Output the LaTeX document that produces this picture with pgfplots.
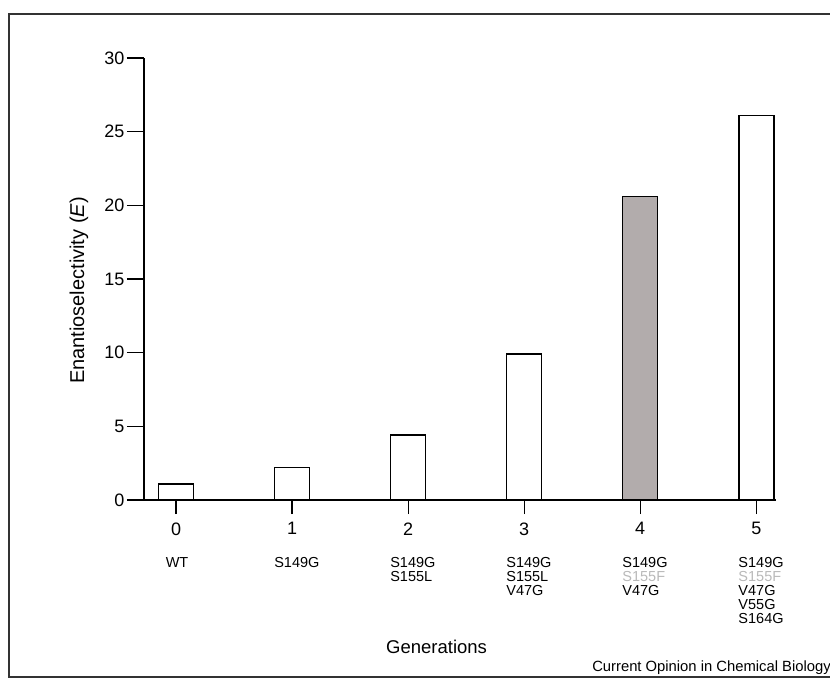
\documentclass[border=0pt]{standalone}
\usepackage{fontspec}
\setmainfont{Liberation Sans}
\usepackage{pgfplots}
\pgfplotsset{compat=1.18}
\definecolor{barfill}{RGB}{178,172,172}
\definecolor{lightlab}{RGB}{185,185,185}
\begin{document}
\begin{tikzpicture}[x=1pt,y=1pt]
\useasboundingbox (0,0) rectangle (830,-681);
\begin{scope}
\clip (0,0) rectangle (830,-681);
\draw[line width=1.3pt, black!80] (9,-14) rectangle (845,-677);
\end{scope}
\begin{axis}[
  at={(144pt,-500pt)}, anchor=south west,
  scale only axis, width=632pt, height=442pt,
  xmin=-0.276, xmax=5.17, ymin=0, ymax=30,
  axis x line*=bottom, axis y line*=left,
  axis line style={line width=1.2pt, black},
  xtick={0,1,2,3,4,5}, ytick={0,5,10,15,20,25,30},
  tick align=outside,
  major tick length=17pt,
  xtick style={line width=1.2pt, black, /pgfplots/major tick length=14pt},
  ytick style={line width=1.2pt, black},
  /pgf/number format/assume math mode=true,
  ticklabel style={font=\fontsize{18}{20}\selectfont},
  yticklabel style={xshift=1pt},
  xticklabel style={yshift=-2pt},
  ylabel={Enantioselectivity (\textit{E})},
  every axis y label/.style={at={(axis description cs:-0.103,0.474)}, rotate=90, anchor=center, font=\fontsize{20}{22}\selectfont},
  xlabel={Generations},
  every axis x label/.style={at={(axis description cs:0.463,-0.333)}, anchor=center, font=\fontsize{18.5}{20}\selectfont},
  clip=false,
]
\addplot[ybar, bar width=35pt, bar shift=0pt, fill=white, draw=black, line width=1.5pt]
  coordinates {(0,1.1) (1,2.2) (2,4.4) (3,9.9) (5,26.1)};
\addplot[ybar, bar width=35pt, bar shift=0pt, fill=barfill, draw=black, line width=1.5pt]
  coordinates {(4,20.6)};
\node[anchor=north, yshift=-57pt, xshift=1pt, inner sep=0pt, font=\fontsize{14.5}{14}\selectfont] at (axis cs:0,0) {WT};
\begin{scope}[every node/.style={anchor=north west, yshift=-57pt, xshift=-18pt, align=left, inner sep=0pt, font=\fontsize{14.5}{14}\selectfont}]
\node at (axis cs:1,0) {S149G};
\node at (axis cs:2,0) {S149G\\S155L};
\node at (axis cs:3,0) {S149G\\S155L\\V47G};
\node at (axis cs:4,0) {S149G\\\textcolor{lightlab}{S155F}\\V47G};
\node at (axis cs:5,0) {S149G\\\textcolor{lightlab}{S155F}\\V47G\\V55G\\S164G};
\end{scope}
\end{axis}
\node[anchor=east, inner sep=0pt, font=\fontsize{14.8}{16}\selectfont] at (831,-668) {Current Opinion in Chemical Biology};
\end{tikzpicture}
\end{document}
